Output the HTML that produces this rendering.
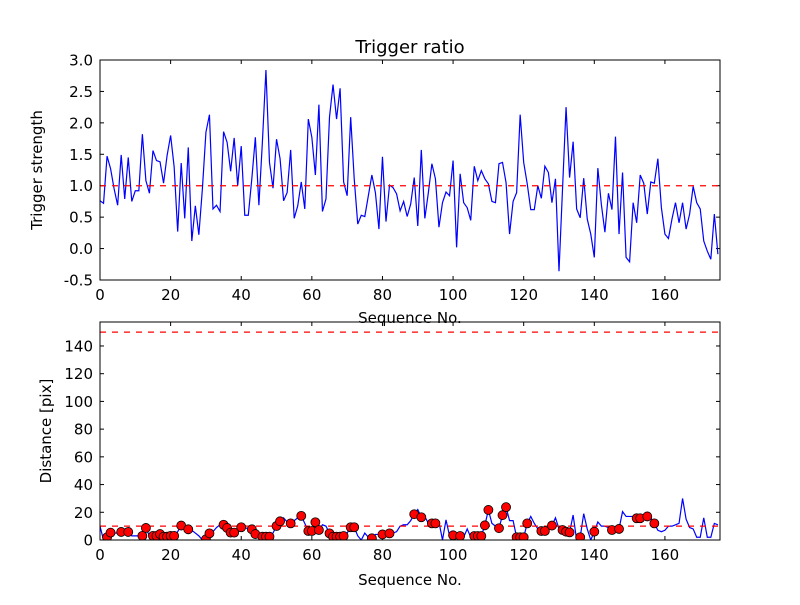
<!DOCTYPE html>
<html><head><meta charset="utf-8"><style>
body{margin:0;background:#fff}
svg text{font-family:"DejaVu Sans","Liberation Sans",sans-serif;fill:#000}
</style></head><body>
<svg id="c" width="800" height="600" viewBox="0 0 800 600">
<rect width="800" height="600" fill="#fff"/>
</svg>
<script>
const ratio=[0.76,0.72,1.47,1.27,0.95,0.69,1.49,0.79,1.45,0.75,0.92,0.92,1.82,1.08,0.88,1.56,1.40,1.38,1.04,1.48,1.80,1.30,0.27,1.36,0.48,1.61,0.12,0.68,0.22,0.95,1.85,2.13,0.63,0.69,0.59,1.86,1.69,1.23,1.76,1.0,1.63,0.53,0.53,1.11,1.77,0.69,1.7,2.84,1.37,0.96,1.74,1.43,0.76,0.89,1.57,0.48,0.68,1.06,0.63,2.06,1.77,1.17,2.29,0.59,0.79,2.09,2.61,2.06,2.55,1.06,0.84,2.09,1.11,0.39,0.53,0.51,0.84,1.17,0.89,0.31,1.46,0.43,1.01,0.97,0.87,0.60,0.75,0.51,0.71,1.13,0.36,1.57,0.48,0.89,1.35,1.11,0.34,0.73,0.90,0.84,1.40,0.02,1.19,0.73,0.65,0.45,1.31,1.08,1.24,1.11,1.03,0.75,0.73,1.35,1.37,1.05,0.23,0.75,0.89,2.13,1.37,1.03,0.62,0.62,1.0,0.80,1.31,1.21,0.73,1.11,-0.36,0.95,2.25,1.13,1.70,0.63,0.49,1.12,0.47,0.23,-0.14,1.28,0.70,0.26,0.88,0.62,1.78,0.23,1.21,-0.14,-0.21,0.73,0.41,1.17,1.04,0.55,1.06,1.04,1.43,0.65,0.23,0.16,0.47,0.73,0.41,0.73,0.31,0.55,0.99,0.73,0.63,0.12,-0.04,-0.17,0.55,-0.09];
const dist=[10,0,2,5.3,5,5,5.8,6,5.8,3,3,3,3,8.7,3,3,3,4.3,2.4,2.4,3,3,6,10.4,10,7.7,7,5,3,0,0.5,4.8,6,9,11,11,8.7,5.3,5.3,9,9.2,9,8,7.7,4.3,3,2.4,2.4,2.4,5,10.1,13.5,16,13,12,14,16,17.4,12,6.5,6.5,12.8,7.2,11,10,4.8,2.4,2.4,2.4,2.9,5,9.2,9.2,3,0,5,2,1.2,4,4,4,4,4.8,5,6,10,11,11,14,18.6,22,16.4,17,12,12,12,13,0,14.5,3,3.4,3,2.9,2,8,2,2.9,2.9,2.9,10.6,21.7,12,10,8.5,17.9,23.7,14,14,2,2,2,12,17,12,8,6.5,6.5,10,10.4,16,8,7.2,6,5.5,18,0,2,19,8,0,6,13,10,10,9,7.2,8,8,20.5,17,17,17,15.7,15.7,17,17,16,12,7,6,7,10,10,11,12,30,15,9,8,2,2,16,2,2,12,11];
const markerIdx=[2,3,6,8,12,13,15,16,17,18,19,20,21,23,25,30,31,35,36,37,38,40,43,44,46,47,48,50,51,54,57,59,60,61,62,65,66,67,68,69,71,72,77,80,82,89,91,94,95,100,102,106,107,108,109,110,113,114,115,118,119,120,121,125,126,128,131,132,133,136,140,145,147,152,153,155,157];
const xTicks=[0,20,40,60,80,100,120,140,160];
const yTicksTop=[-0.5,0,0.5,1.0,1.5,2.0,2.5,3.0];
const yTicksBot=[0,20,40,60,80,100,120,140];
const refTop=[1.0];
const refBot=[10,150];

const svg=document.getElementById('c');
const NS='http://www.w3.org/2000/svg';
function mk(tag,at,parent){const e=document.createElementNS(NS,tag);for(const k in at)e.setAttribute(k,at[k]);(parent||svg).appendChild(e);return e;}
const L=100,R=720,XMAX=175.6;
const sx=v=>L+(R-L)*v/XMAX;
function axes(name,top,bot,ymin,ymax,yt,fmt){
  const sy=v=>bot-(bot-top)*(v-ymin)/(ymax-ymin);
  const g=mk('g',{});
  
  
  const cp=mk('clipPath',{id:name+'-clip'},g);mk('rect',{x:L,y:top,width:R-L,height:bot-top},cp);
  xTicks.forEach(t=>{const x=sx(t);
    mk('line',{x1:x,x2:x,y1:bot,y2:bot-4,stroke:'#000'},g);mk('line',{x1:x,x2:x,y1:top,y2:top+4,stroke:'#000'},g);
    const tx=mk('text',{x:x,y:bot+20,'text-anchor':'middle','font-size':15},g);tx.textContent=t;
    
    });
  yt.forEach(t=>{const y=sy(t);
    mk('line',{x1:L,x2:L+4,y1:y,y2:y,stroke:'#000'},g);mk('line',{x1:R,x2:R-4,y1:y,y2:y,stroke:'#000'},g);
    const tx=mk('text',{x:L-7,y:y+5.5,'text-anchor':'end','font-size':15},g);tx.textContent=fmt(t);
    
    });
  return {g,sy,clip:'url(#'+name+'-clip)'};
}
const A=axes('top-axes',60,280,-0.5,3.0,yTicksTop,t=>t.toFixed(1));
const pl=mk('polyline',{points:ratio.map((v,i)=>sx(i)+','+A.sy(v)).join(' '),fill:'none',stroke:'#0000ff','stroke-width':1.2,'clip-path':A.clip},A.g);


refTop.forEach(v=>{const l=mk('line',{x1:L,x2:R,y1:A.sy(v),y2:A.sy(v),stroke:'#ff0000','stroke-dasharray':'6,6','stroke-width':1.2},A.g);
  
  });
mk('rect',{x:L,y:60,width:R-L,height:220,fill:'none',stroke:'#000'},A.g);
const B=axes('bottom-axes',322,540,0,157.3,yTicksBot,t=>t);
const pl2=mk('polyline',{points:dist.map((v,i)=>sx(i)+','+B.sy(v)).join(' '),fill:'none',stroke:'#0000ff','stroke-width':1.2,'clip-path':B.clip},B.g);


refBot.forEach(v=>{const l=mk('line',{x1:L,x2:R,y1:B.sy(v),y2:B.sy(v),stroke:'#ff0000','stroke-dasharray':'6,6','stroke-width':1.2},B.g);
  
  });
markerIdx.forEach(i=>{const c=mk('circle',{cx:sx(i),cy:B.sy(dist[i]),r:4.5,fill:'#ff0000',stroke:'#000','stroke-width':0.8,'clip-path':B.clip},B.g);
  
  });
mk('rect',{x:L,y:322,width:R-L,height:218,fill:'none',stroke:'#000'},B.g);
function label(txt,at,name){const t=mk('text',at);t.textContent=txt;
  
  }
label('Trigger ratio',{x:410,y:53,'text-anchor':'middle','font-size':18},'chart-title');
label('Sequence No.',{x:410,y:323,'text-anchor':'middle','font-size':15},'top-x-axis-title');
label('Sequence No.',{x:410,y:585,'text-anchor':'middle','font-size':15},'bottom-x-axis-title');
label('Trigger strength',{x:0,y:0,'text-anchor':'middle','font-size':15,transform:'translate(42,170) rotate(-90)'},'top-y-axis-title');
label('Distance [pix]',{x:0,y:0,'text-anchor':'middle','font-size':15,transform:'translate(51,431) rotate(-90)'},'bottom-y-axis-title');
</script>
</body></html>
